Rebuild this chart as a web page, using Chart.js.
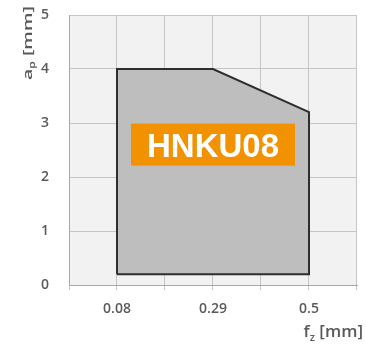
<!DOCTYPE html>
<html>
<head>
<meta charset="utf-8">
<script src="https://cdn.jsdelivr.net/npm/chart.js@4/dist/chart.umd.min.js"></script>
<style>
  html, body { margin: 0; padding: 0; background: #ffffff; }
  #wrap { width: 366px; height: 345px; }
</style>
</head>
<body>
<div id="wrap"><canvas id="chart" width="366" height="345"></canvas></div>
<script>
// Feed values shown on the x axis (mm)
const feedTicks = [0.08, 0.29, 0.5];
// Depth ticks on the y axis (mm)
const depthTicks = [0, 1, 2, 3, 4, 5];
// Outline of the application range: feed fz and depth of cut ap
const rangeFeed  = [0.08, 0.08, 0.29, 0.5, 0.5, 0.08];
const rangeDepth = [0.2, 4, 4, 3.2, 0.2, 0.2];
// Insert designation shown inside the range
const insertName = 'HNKU08';

const feedStep = (feedTicks[1] - feedTicks[0]) / 2;
const feedMin = feedTicks[0] - feedStep;
const feedMax = feedTicks[feedTicks.length - 1] + feedStep;

const rangePoints = rangeFeed.map((f, i) => ({ x: f, y: rangeDepth[i] }));

const TEXT = '#5a5a5a';
const FONT = '"Open Sans", "DejaVu Sans", sans-serif';

// Wanted plot area edges inside the 366x345 canvas
const AREA = { left: 69, top: 15, right: 357, bottom: 285 };

// Light grey fill behind the plotting area
const plotBackground = {
  id: 'plotBackground',
  beforeDraw(chart) {
    const { ctx, chartArea: a } = chart;
    ctx.save();
    ctx.fillStyle = '#f2f2f2';
    ctx.fillRect(a.left, a.top, a.right - a.left, a.bottom - a.top);
    ctx.restore();
  }
};

// Width of a text with a subscript part: [main, sub, rest]
function subTextWidths(ctx, parts, size) {
  const [main, sub, rest] = parts;
  ctx.font = `600 ${size}px ${FONT}`;
  const w1 = ctx.measureText(main).width;
  const w3 = ctx.measureText(rest).width;
  ctx.font = `600 ${Math.round(size * 0.62)}px ${FONT}`;
  const w2 = ctx.measureText(sub).width;
  return [w1, w2, w3];
}

// Draws a text with a subscript part, starting at x
function drawSubText(ctx, parts, x, y, size) {
  const [main, sub, rest] = parts;
  const [w1, w2] = subTextWidths(ctx, parts, size);
  ctx.textAlign = 'left';
  ctx.textBaseline = 'alphabetic';
  ctx.font = `600 ${size}px ${FONT}`;
  ctx.fillText(main, x, y);
  ctx.font = `600 ${Math.round(size * 0.62)}px ${FONT}`;
  ctx.fillText(sub, x + w1, y + size * 0.22);
  ctx.font = `600 ${size}px ${FONT}`;
  ctx.fillText(rest, x + w1 + w2, y);
}

// Axis titles with subscripts and the orange designation box
const annotations = {
  id: 'annotations',
  afterDatasetsDraw(chart) {
    const { ctx, chartArea: a, scales } = chart;
    ctx.save();
    ctx.fillStyle = TEXT;

    // x title, right aligned under the axis
    const xParts = ['f', 'z', ' [mm]'];
    const xw = subTextWidths(ctx, xParts, 17).reduce((s, v) => s + v, 0);
    drawSubText(ctx, xParts, a.right + 6 - xw, a.bottom + 52, 17);

    // y title, rotated and stretched along the axis, ending near the top
    const yParts = ['a', 'p', ' [mm]'];
    const yw = subTextWidths(ctx, yParts, 13).reduce((s, v) => s + v, 0);
    const yLen = 74;
    ctx.save();
    ctx.translate(a.left - 37, a.top + 65);
    ctx.rotate(-Math.PI / 2);
    ctx.scale(yLen / yw, 1);
    drawSubText(ctx, yParts, 0, 0, 13);
    ctx.restore();

    // designation box
    const cx = scales.x.getPixelForValue(feedTicks[1]);
    const cy = scales.y.getPixelForValue(2.6);
    const bw = 164, bh = 42;
    ctx.fillStyle = '#f39200';
    ctx.fillRect(cx - bw / 2, cy - bh / 2, bw, bh);
    ctx.fillStyle = '#ffffff';
    ctx.font = '700 33px "Liberation Sans", Arial, sans-serif';
    ctx.textAlign = 'center';
    ctx.textBaseline = 'alphabetic';
    ctx.fillText(insertName, cx, cy + 12);
    ctx.restore();
  }
};

const chart = new Chart(document.getElementById('chart'), {
  type: 'line',
  data: {
    datasets: [{
      data: rangePoints,
      borderColor: '#2e2e2e',
      borderWidth: 2,
      backgroundColor: '#bebebe',
      fill: 'shape',
      pointRadius: 0,
      tension: 0
    }]
  },
  options: {
    responsive: false,
    animation: false,
    layout: { padding: { top: AREA.top, right: 366 - AREA.right, left: 0, bottom: 0 } },
    plugins: { legend: { display: false }, tooltip: { enabled: false } },
    scales: {
      x: {
        type: 'linear',
        min: feedMin,
        max: feedMax,
        afterBuildTicks(scale) {
          const t = [];
          for (let i = 0; i <= (feedTicks.length - 1) * 2 + 2; i++) {
            t.push({ value: feedMin + i * feedStep });
          }
          scale.ticks = t;
        },
        afterFit(scale) {
          scale.height = 345 - AREA.bottom;
          scale.paddingLeft = 0;
          scale.paddingRight = 0;
        },
        ticks: {
          autoSkip: false,
          maxRotation: 0,
          padding: 11,
          color: TEXT,
          font: { family: FONT, size: 14, weight: '600' },
          callback(v) {
            const hit = feedTicks.find(f => Math.abs(f - v) < 1e-6);
            return hit === undefined ? '' : String(hit);
          }
        },
        grid: { color: '#c6c6c6', lineWidth: 1, tickLength: 5, drawTicks: true },
        border: { color: '#a8a8a8' }
      },
      y: {
        min: depthTicks[0],
        max: depthTicks[depthTicks.length - 1],
        afterBuildTicks(scale) { scale.ticks = depthTicks.map(v => ({ value: v })); },
        afterFit(scale) {
          scale.width = AREA.left;
          scale.paddingTop = 0;
          scale.paddingBottom = 0;
        },
        ticks: {
          padding: 20,
          color: TEXT,
          font: { family: FONT, size: 14, weight: '600' }
        },
        grid: { color: '#c6c6c6', lineWidth: 1, drawTicks: false },
        border: { color: '#a8a8a8' }
      }
    }
  },
  plugins: [plotBackground, annotations]
});
</script>
</body>
</html>
